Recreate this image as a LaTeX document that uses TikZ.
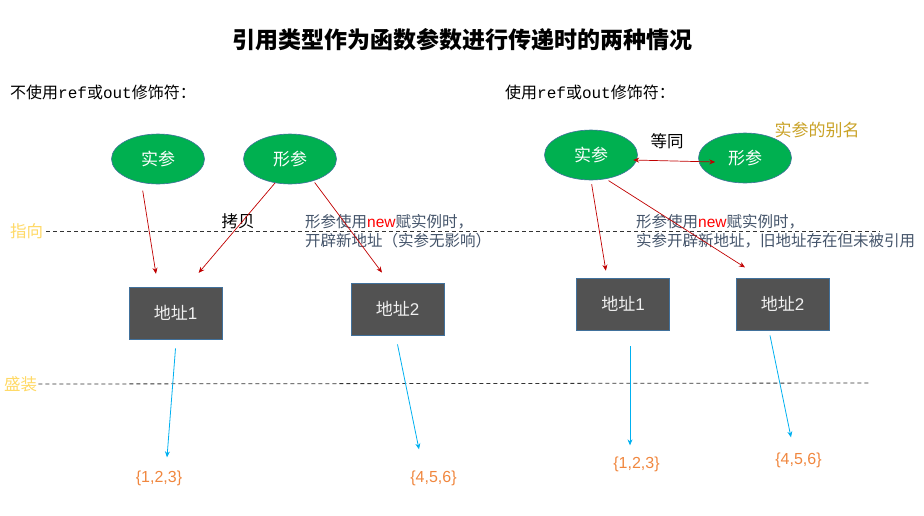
\documentclass[tikz,border=0pt]{standalone}
\usepackage{fontspec}
\setmainfont{Noto Sans CJK SC}
\newfontfamily\arialf{Liberation Sans}
\newfontfamily\monof{Liberation Mono}
\usetikzlibrary{shapes.geometric,arrows.meta}
\definecolor{egreen}{HTML}{00B050}
\definecolor{eborder}{HTML}{41719C}
\definecolor{boxfill}{HTML}{525252}
\definecolor{redline}{HTML}{C00000}
\definecolor{blueline}{HTML}{00B0F0}
\definecolor{orangeval}{HTML}{F0873F}
\definecolor{notecol}{HTML}{44546A}
\definecolor{goldlab}{HTML}{FFD966}
\definecolor{aliascol}{HTML}{C9A227}
\begin{document}
\begin{tikzpicture}[x=1pt,y=-1pt,
 ell/.style={ellipse, draw=eborder, line width=0.6pt, fill=egreen, minimum width=93pt, minimum height=50pt, inner sep=0pt, text=white, font=\fontsize{17}{20}\selectfont},
 addr/.style={rectangle, draw=eborder, line width=0.8pt, fill=boxfill, minimum width=93pt, minimum height=52pt, inner sep=0pt, text=white!94!black, font=\fontsize{17}{20}\selectfont},
 val/.style={text=orangeval, font=\arialf\fontsize{16}{19}\selectfont, inner sep=0pt},
 head/.style={anchor=west, inner sep=0pt, font=\fontsize{16}{19}\selectfont},
 lvl/.style={anchor=west, inner sep=0pt, text=goldlab, font=\fontsize{16.5}{19}\selectfont},
 note/.style={anchor=west, inner sep=0pt, align=left, text=notecol, font=\fontsize{15.5}{19}\selectfont},
 plain/.style={inner sep=0pt, font=\fontsize{16.5}{19}\selectfont},
 sep/.style={dash pattern=on 4pt off 3pt, draw=black!80, line width=0.8pt},
 redarr/.style={draw=redline, line width=0.7pt, -{Stealth[length=6pt,width=5pt]}},
 bluearr/.style={draw=blueline, line width=0.8pt, -{Stealth[length=6pt,width=5pt]}}
]
\useasboundingbox (0,0) rectangle (924,515);

% title
\node[inner sep=0pt, font=\fontsize{23}{26}\selectfont\bfseries] (title) at (462,40) {引用类型作为函数参数进行传递时的两种情况};

% headings
\node[head] (hl) at (10,92) {不使用{\monof ref}或{\monof out}修饰符：};
\node[head] (hr) at (505,92) {使用{\monof ref}或{\monof out}修饰符：};

% level labels and separators
\node[lvl] (zx) at (10,231) {指向};
\node[lvl] (sz) at (4,384) {盛装};
\coordinate (zxend) at (880,231);
\coordinate (szend) at (870,383);
\draw[sep] ([xshift=3pt]zx.east) -- (zxend);
\draw[sep] ([xshift=1pt]sz.east) -- (szend);

% left ellipses
\node[ell] (lr) at (158,159) {实参};
\node[ell] (lx) at (290,159) {形参};
% right ellipses
\node[ell] (rr) at (591,155) {实参};
\node[ell] (rx) at (745,158) {形参};

% boxes
\node[addr] (la1) at (175.5,313) {地址{\arialf 1}};
\node[addr] (lb2) at (397.5,309) {地址{\arialf 2}};
\node[addr] (ra1) at (623,304) {地址{\arialf 1}};
\node[addr] (rb2) at (782.5,304) {地址{\arialf 2}};

% values
\node[val] (lv1) at (159,478) {\{1,2,3\}};
\node[val] (lv2) at (433.5,478) {\{4,5,6\}};
\node[val] (rv1) at (636.5,464) {\{1,2,3\}};
\node[val] (rv2) at (798.5,460) {\{4,5,6\}};

% labels
\node[plain] (kb) at (238,221) {拷贝};
\node[plain] (dt) at (667,141) {等同};
\node[inner sep=0pt, text=aliascol, font=\fontsize{17}{20}\selectfont] (bm) at (817,130) {实参的别名};
\node[note] (nl) at (305,231) {形参使用{\arialf\color{red}new}赋实例时，\\开辟新地址（实参无影响）};
\node[note] (nr) at (636,231) {形参使用{\arialf\color{red}new}赋实例时，\\实参开辟新地址，旧地址存在但未被引用};

% red arrows
\draw[redarr, shorten <=8pt, shorten >=13pt] (lr.235) -- ([xshift=-17.5pt]la1.north);
\draw[redarr, shorten >=18pt] (lx.238) -- ([xshift=11.5pt]la1.north);
\draw[redarr, shorten <=2pt, shorten >=12.5pt] (lx.317) -- ([xshift=-8pt]lb2.north);
\draw[redarr, shorten <=4pt, shorten >=7pt] (rr.270) -- ([xshift=-16pt]ra1.north);
\draw[redarr, shorten <=3pt, shorten >=19pt] (rr.302) -- ([xshift=-21.5pt]rb2.north);
\draw[draw=redline, line width=0.7pt, {Stealth[length=6pt,width=5pt]}-{Stealth[length=6pt,width=5pt]}] ([xshift=-4.6pt,yshift=-5pt]rr.east) -- ([xshift=17pt,yshift=-4pt]rx.west);

% blue arrows
\draw[bluearr] ([yshift=-9pt]la1.south) -- ([xshift=8pt,yshift=13pt]lv1.north);
\draw[bluearr] ([yshift=-9pt]lb2.south) -- ([xshift=-14.5pt,yshift=21pt]lv2.north);
\draw[bluearr] ([xshift=7pt,yshift=-16pt]ra1.south) -- ([xshift=-6.5pt,yshift=11pt]rv1.north);
\draw[bluearr] ([xshift=-12.5pt,yshift=-5pt]rb2.south) -- ([xshift=-7.5pt,yshift=15pt]rv2.north);
\end{tikzpicture}
\end{document}
